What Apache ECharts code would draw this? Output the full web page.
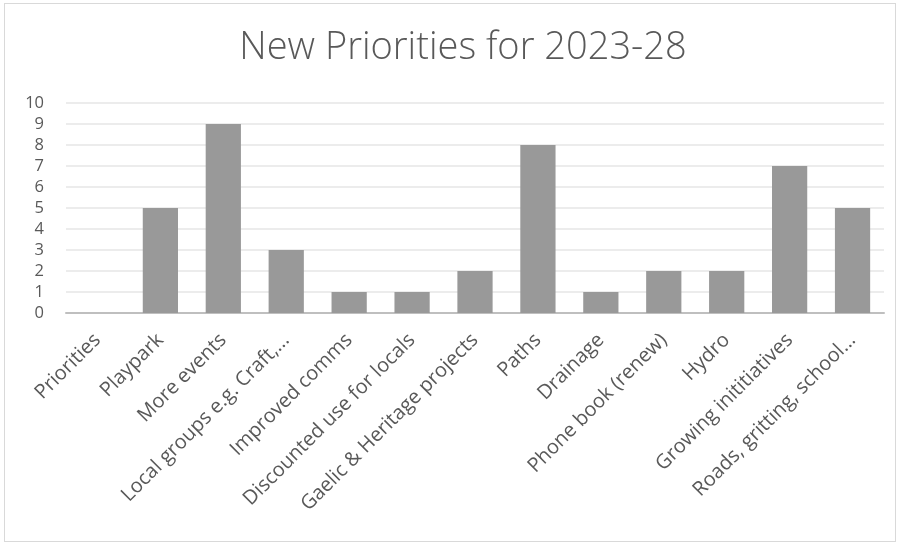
<!DOCTYPE html>
<html>
<head>
<meta charset="utf-8">
<script src="https://cdn.jsdelivr.net/npm/echarts@6/dist/echarts.min.js"></script>
<style>
html,body{margin:0;padding:0;background:#fff;}
#frame{position:absolute;left:4px;top:3px;width:892px;height:539px;border:1px solid #d9d9d9;box-sizing:border-box;}
#c{position:absolute;left:0;top:0;width:902px;height:546px;}
</style>
</head>
<body>
<div id="frame"></div>
<div id="c"></div>
<script>
const titleText = "New Priorities for 2023-28";
const categories = ["Priorities","Playpark","More events","Local groups e.g. Craft,...","Improved comms","Discounted use for locals","Gaelic & Heritage projects","Paths","Drainage","Phone book (renew)","Hydro","Growing inititiatives","Roads, gritting, school..."];
const values = [0,5,9,3,1,1,2,8,1,2,2,7,5];
const yTicks = {min:0, max:10, interval:1};

const chart = echarts.init(document.getElementById('c'), null, {renderer:'canvas'});
chart.setOption({
  animation:false,
  backgroundColor:'transparent',
  title:{
    text:titleText, left:458, top:24, textAlign:'center',
    textStyle:{fontFamily:'Open Sans', fontWeight:300, fontSize:38, color:'#595959'}
  },
  grid:{left:66, right:18, top:103, bottom:233},
  xAxis:{
    type:'category', data:categories,
    axisLine:{lineStyle:{color:'#bfbfbf', width:2}},
    axisTick:{show:false},
    axisLabel:{rotate:45, interval:0, margin:24, color:'#595959', fontFamily:'Open Sans', fontSize:20}
  },
  yAxis:{
    type:'value', min:yTicks.min, max:yTicks.max, interval:yTicks.interval,
    axisLine:{show:false}, axisTick:{show:false},
    splitLine:{lineStyle:{color:'#ececec', width:2}},
    axisLabel:{margin:22, color:'#595959', fontFamily:'Open Sans', fontSize:16.5}
  },
  series:[{
    type:'bar', data:values, barWidth:'56%',
    itemStyle:{color:'#999999'}
  }]
});
</script>
</body>
</html>
